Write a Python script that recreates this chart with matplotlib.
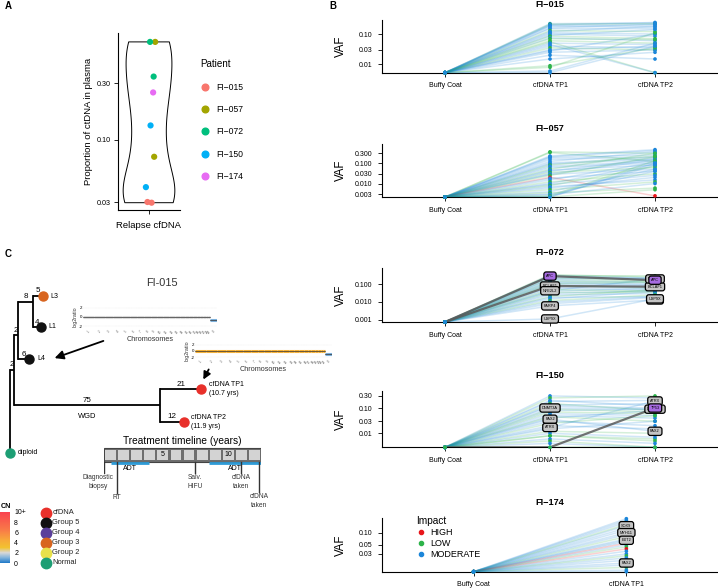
import numpy as np
import matplotlib
matplotlib.use('Agg')
import matplotlib.pyplot as plt
from matplotlib.colors import LinearSegmentedColormap, Normalize
from matplotlib.cm import ScalarMappable
from matplotlib.lines import Line2D
from matplotlib.patches import Rectangle
from matplotlib.ticker import NullLocator

plt.rcParams['font.family'] = ['Liberation Sans', 'DejaVu Sans']
plt.rcParams['axes.linewidth'] = 0.8

W, H = 718, 588

# ---------------- panel A data
patients = ['FI\u2212015', 'FI\u2212057', 'FI\u2212072', 'FI\u2212150', 'FI\u2212174']
patient_colors = ['#F8766D', '#A3A500', '#00BF7D', '#00B0F6', '#E76BF3']
relapse_patient = [0, 0, 1, 1, 2, 2, 3, 3, 4]
relapse_ctdna = [0.0300, 0.0296, 0.072, 0.665, 0.665, 0.340, 0.132, 0.040, 0.250]
relapse_jitter = [-0.03, 0.05, 0.10, 0.12, 0.02, 0.09, 0.03, -0.06, 0.08]

# ---------------- panel B data
impact_names = ['HIGH', 'LOW', 'MODERATE']
impact_colors = {'H': '#E8161B', 'L': '#2DB34A', 'M': '#1C86D9'}
tp3 = ['Buffy Coat', 'cfDNA TP1', 'cfDNA TP2']
tp2 = ['Buffy Coat', 'cfDNA TP1']

fi015_tp1 = [0.22, 0.21, 0.20, 0.19, 0.18, 0.16, 0.15, 0.13, 0.12, 0.11, 0.10, 0.09, 0.085, 0.075, 0.07,
             0.06, 0.055, 0.05, 0.045, 0.04, 0.035, 0.03, 0.028, 0.025, 0.02, 0.015, 0.009, 0.008, 0.006, 0.0]
fi015_tp2 = [0.23, 0.22, 0.24, 0.20, 0.17, 0.21, 0.15, 0.12, 0.18, 0.10, 0.085, 0.14, 0.07, 0.06, 0.065,
             0.05, 0.0, 0.045, 0.0, 0.035, 0.03, 0.04, 0.10, 0.03, 0.015, 0.025, 0.035, 0.11, 0.05, 0.04]
fi015_imp = 'MLMMMMMLMMMMLMLLLMMMLMMMMMLLMM'

fi057_tp1 = [0.35, 0.33, 0.22, 0.20, 0.18, 0.15, 0.12, 0.10, 0.09, 0.08, 0.07, 0.06, 0.05, 0.045, 0.04,
             0.035, 0.03, 0.028, 0.025, 0.02, 0.018, 0.015, 0.012, 0.01, 0.009, 0.008, 0.007, 0.006,
             0.005, 0.004, 0.0035, 0.003, 0.0028, 0.0025, 0.0, 0.0, 0.0]
fi057_tp2 = [0.30, 0.12, 0.45, 0.40, 0.25, 0.20, 0.35, 0.18, 0.15, 0.22, 0.12, 0.10, 0.30, 0.08, 0.16,
             0.06, 0.14, 0.05, 0.20, 0.0025, 0.04, 0.11, 0.03, 0.09, 0.025, 0.07, 0.015, 0.02,
             0.012, 0.05, 0.006, 0.04, 0.01, 0.13, 0.10, 0.005, 0.08]
fi057_imp = 'LLMMMMMMMLMMLMMLMMLHMMLMMLMMLMLMMLMLM'

fi072_tp1 = [0.29, 0.08, 0.043, 0.006, 0.0011, 0.35, 0.32, 0.30, 0.28, 0.25, 0.22, 0.20, 0.18, 0.15, 0.14,
             0.12, 0.11, 0.10, 0.09, 0.07, 0.06, 0.05, 0.04, 0.035, 0.03, 0.025, 0.02, 0.018, 0.015,
             0.012, 0.01, 0.008]
fi072_tp2 = [0.17, 0.073, 0.20, 0.013, 0.015, 0.25, 0.22, 0.30, 0.20, 0.18, 0.15, 0.22, 0.12, 0.14, 0.10,
             0.09, 0.13, 0.08, 0.06, 0.07, 0.05, 0.04, 0.06, 0.035, 0.045, 0.03, 0.05, 0.02, 0.04,
             0.025, 0.02, 0.018]
fi072_imp = 'MMMMMLMLMMLMMLMMLMLMMLMLMMLMMLMM'
fi072_genes = ['APC', 'BCLAF1', 'NFE2L2', 'PARP4', 'USP9X']

fi150_tp1 = [0.10, 0.036, 0.017, 0.0, 0.008, 0.30, 0.25, 0.20, 0.18, 0.15, 0.13, 0.12, 0.09, 0.08, 0.07,
             0.06, 0.05, 0.045, 0.04, 0.03, 0.025, 0.02, 0.015, 0.012, 0.01, 0.008, 0.006, 0.005, 0.004, 0.0]
fi150_tp2 = [0.09, 0.012, 0.19, 0.10, 0.006, 0.25, 0.30, 0.12, 0.20, 0.08, 0.15, 0.10, 0.07, 0.09, 0.06,
             0.05, 0.04, 0.03, 0.08, 0.02, 0.05, 0.015, 0.03, 0.01, 0.007, 0.005, 0.004, 0.0, 0.0, 0.0]
fi150_imp = 'MMMMLMLMMLMMLMLMMLMMLMMLMLMLML'
fi150_genes = ['DNMT3A', 'PAX2', 'ATRX', 'TP53']

fi174_tp1 = [0.148, 0.10, 0.065, 0.018, 0.22, 0.20, 0.18, 0.16, 0.13, 0.115, 0.09, 0.08, 0.07, 0.06,
             0.055, 0.05, 0.045, 0.04, 0.035, 0.03, 0.027, 0.024, 0.021, 0.016, 0.014, 0.012, 0.011]
fi174_imp = 'MMMMMMMLMMMLMMHMLHMMLMMMLMM'
fi174_genes = ['SOX9', 'MYH11', 'EXT2', 'PAX2']

# ---------------- panel C data
tree_nodes = ['root', 'diploid', 'n1', 'n2', 'n3', 'n4', 'L3', 'L1', 'L4', 'TP1', 'TP2']
tree_parent = [None, 'root', 'root', 'n1', 'n1', 'n2', 'n4', 'n4', 'n2', 'n3', 'n3']
tree_branch = [0, 0, 2, 2, 75, 8, 5, 4, 6, 21, 12]
tree_row = [None, 453, 370, 335, 405, 302, 296, 327, 359, 389, 422]
tree_colour = [None, '#1D9E74', None, None, None, None, '#D8651F', '#111111', '#111111', '#E8302A', '#E8302A']
tree_label = [None, 'diploid', None, None, None, None, 'L3', 'L1', 'L4',
              'cfDNA TP1\n(10.7 yrs)', 'cfDNA TP2\n(11.9 yrs)']

timeline_years = 12
adt_start = [0.5, 8.05]
adt_end = [3.45, 12.0]
event_year = [0.0, 0.95, 6.96, 10.47, 11.9]
event_label = ['Diagnostic\nbiopsy', 'RT', 'Salv.\nHIFU', 'cfDNA\ntaken', 'cfDNA\ntaken']
event_label_year = [-0.45, 0.95, 6.96, 10.47, 11.9]
event_depth = [473, 493, 473, 473, 492]

chrom_names = [str(i) for i in range(1, 23)] + ['X']
chrom_len = [249, 243, 198, 191, 181, 171, 159, 146, 141, 136, 135, 134, 115, 107, 102, 90, 81, 78,
             59, 63, 48, 51, 155]
cnv1_cn = [2] * 22 + [1]
cnv1_ratio = [0.0] * 22 + [-0.75]
cnv2_cn = [4] * 22 + [1]
cnv2_ratio = [0.0] * 22 + [-0.9]

group_labels = ['cfDNA', 'Group 5', 'Group 4', 'Group 3', 'Group 2', 'Normal']
group_colors = ['#E8302A', '#111111', '#5B3F9B', '#D8651F', '#E8E14A', '#1D9E74']

cn_cmap = LinearSegmentedColormap.from_list('cn', [(0.0, '#1E78C8'), (0.1, '#7FB2DB'), (0.2, '#D8D8D8'),
                                                   (0.3, '#F2C230'), (0.45, '#F7A83A'),
                                                   (0.65, '#F87A48'), (1.0, '#F9424F')])
cn_norm = Normalize(0, 10)


def px(x0, y0, x1, y1):
    return [x0 / W, 1 - y1 / H, (x1 - x0) / W, (y1 - y0) / H]


def clean(ax):
    ax.spines['top'].set_visible(False)
    ax.spines['right'].set_visible(False)


fig = plt.figure(figsize=(W / 100, H / 100), dpi=100)
ov = fig.add_axes([0, 0, 1, 1])
ov.set_xlim(0, W)
ov.set_ylim(H, 0)
ov.axis('off')

for lab, (x, y) in zip('ABC', [(8, 6), (333, 6), (8, 254)]):
    ov.text(x, y, lab, fontsize=7, fontweight='bold', ha='center', va='center')

# ================= panel A
axA = fig.add_axes(px(118, 33, 180, 210))
clean(axA)
logv = np.log10(relapse_ctdna)
vp = axA.violinplot([logv], positions=[1], widths=1.0, showextrema=False, bw_method=0.4)
for b in vp['bodies']:
    b.set_facecolor('none')
    b.set_edgecolor('black')
    b.set_linewidth(0.7)
    b.set_alpha(1)
axA.scatter(1 + np.array(relapse_jitter), logv, c=[patient_colors[p] for p in relapse_patient],
            s=20, edgecolors='none', zorder=3)
axA.set_xlim(0.4, 1.6)
axA.set_ylim(np.log10(0.0257), np.log10(0.79))
axA.set_yticks(np.log10([0.03, 0.1, 0.3]))
axA.set_yticklabels(['0.03', '0.10', '0.30'], fontsize=5.2)
axA.set_xticks([1])
axA.set_xticklabels(['Relapse cfDNA'], fontsize=6.8)
axA.tick_params(length=3, width=0.6, pad=2)
axA.tick_params(axis='x', pad=5)
axA.set_ylabel('Proportion of ctDNA in plasma', fontsize=6.8, labelpad=3)

handles = [Line2D([], [], marker='o', ls='', color=c, ms=4.8) for c in patient_colors]
fig.legend(handles, patients, title='Patient', loc='upper left', bbox_to_anchor=(196 / W, 1 - 55 / H),
           frameon=False, fontsize=6.2, title_fontsize=7.1, labelspacing=1.55, handletextpad=0.9,
           handlelength=1.0, borderpad=0, alignment='left')


# ================= panel B
def vaf_panel(rect, title, cats, vafs, imp, ylim, ticks, ticklabels, genes=(), purple=(), grey=()):
    ax = fig.add_axes(rect)
    clean(ax)
    ax.set_yscale('log')
    ax.set_ylim(*ylim)
    ax.set_xlim(-0.6, len(cats) - 0.4)
    xs = np.arange(len(cats))
    cols = [impact_colors[c] for c in imp]
    for i in range(len(imp)):
        ys = np.clip([v[i] for v in vafs], ylim[0], None)
        if i in grey:
            ax.plot(xs, ys, color='#5A5A5A', lw=1.6, alpha=0.85, zorder=3)
        else:
            ax.plot(xs, ys, color=cols[i], lw=1.1, alpha=0.2, zorder=2)
    for j in range(len(cats)):
        ys = np.clip(vafs[j], ylim[0], None)
        ax.scatter(np.full(len(ys), j), ys, s=7, c=cols, edgecolors='none', zorder=4, clip_on=False)
    for i, g in enumerate(genes):
        for j in range(1, len(cats)):
            v = vafs[j][i]
            if v > 0:
                fc = '#A66BE0' if i in purple else '#C4C4C4'
                ax.text(j, v, g, fontsize=2.8, ha='center', va='center', zorder=7 if i in purple else 6,
                        bbox=dict(boxstyle='round,pad=0.55,rounding_size=0.6', fc=fc, ec='black', lw=0.9))
    ax.set_yticks(ticks)
    ax.set_yticklabels(ticklabels, fontsize=5)
    ax.yaxis.set_minor_locator(NullLocator())
    ax.set_xticks(xs)
    ax.set_xticklabels(cats, fontsize=5)
    ax.tick_params(length=3, width=0.6, pad=4)
    ax.set_ylabel('VAF', fontsize=8.3)
    ax.yaxis.set_label_coords(-35 / 336, 0.5)
    ax.annotate(title, xy=(0.5, 1), xycoords='axes fraction', xytext=(0, 11.5), textcoords='offset points',
                ha='center', va='center', fontsize=6.6, fontweight='bold')
    return ax


zeros = [0.0] * 40
vaf_panel(px(382, 20, 718, 72.7), 'FI\u2212015', tp3, [zeros[:30], fi015_tp1, fi015_tp2], fi015_imp,
          (0.0053, 0.29), [0.01, 0.03, 0.1], ['0.01', '0.03', '0.10'])
vaf_panel(px(382, 144, 718, 197), 'FI\u2212057', tp3, [zeros[:37], fi057_tp1, fi057_tp2], fi057_imp,
          (0.0022, 0.85), [0.003, 0.01, 0.03, 0.1, 0.3], ['0.003', '0.010', '0.030', '0.100', '0.300'])
vaf_panel(px(382, 268, 718, 322), 'FI\u2212072', tp3, [zeros[:32], fi072_tp1, fi072_tp2], fi072_imp,
          (0.00074, 0.83), [0.001, 0.01, 0.1], ['0.001', '0.010', '0.100'],
          genes=fi072_genes, purple=(0,), grey=(0, 1))
vaf_panel(px(382, 391, 718, 447.3), 'FI\u2212150', tp3, [zeros[:30], fi150_tp1, fi150_tp2], fi150_imp,
          (0.0028, 0.47), [0.01, 0.03, 0.1, 0.3], ['0.01', '0.03', '0.10', '0.30'],
          genes=fi150_genes, purple=(3,), grey=(3,))
ax174 = vaf_panel(px(382, 518.3, 718, 571.7), 'FI\u2212174', tp2, [zeros[:27], fi174_tp1], fi174_imp,
                  (0.011, 0.225), [0.03, 0.05, 0.1], ['0.03', '0.05', '0.10'], genes=fi174_genes)

handles = [Line2D([], [], marker='o', ls='', color=impact_colors[k], ms=3) for k in 'HLM']
fig.legend(handles, impact_names, title='Impact', loc='upper left', bbox_to_anchor=(412 / W, 1 - 511 / H),
           frameon=False, fontsize=6.5, title_fontsize=7.3, labelspacing=0.25, handletextpad=0.5,
           handlelength=1.0, borderpad=0, alignment='left')

# ================= panel C : tree
axT = fig.add_axes(px(0, 255, 360, 588))
axT.set_xlim(-10 / 1.95, 350 / 1.95)
axT.set_ylim(588, 255)
axT.axis('off')
depth = {}
row = dict(zip(tree_nodes, tree_row))
for n, p, b in zip(tree_nodes, tree_parent, tree_branch):
    depth[n] = 0 if p is None else depth[p] + b
for n, p, b in zip(tree_nodes, tree_parent, tree_branch):
    if p is None:
        continue
    axT.plot([depth[p], depth[n]], [row[n], row[n]], color='black', lw=1.3, solid_capstyle='butt')
    if b > 0:
        axT.text((depth[p] + depth[n]) / 2, row[n] - 5, str(b), fontsize=5.8, ha='center', va='center')
for n in tree_nodes:
    kids = [row[c] for c, p in zip(tree_nodes, tree_parent) if p == n]
    if kids:
        axT.plot([depth[n], depth[n]], [min(kids), max(kids)], color='black', lw=1.3)
for n, c, lab in zip(tree_nodes, tree_colour, tree_label):
    if c is None:
        continue
    axT.plot(depth[n], row[n], 'o', ms=6.5, color=c, zorder=4)
    axT.annotate(lab, xy=(depth[n], row[n]), xytext=(5.5, 0), textcoords='offset points',
                 fontsize=5, ha='left', va='center', linespacing=1.3)
axT.text((depth['n1'] + depth['n3']) / 2, row['n3'] + 11, 'WGD', fontsize=5.4, ha='center', va='center')

ov.text(162, 283, 'FI-015', fontsize=7.9, ha='center', va='center', color='#333333')
ov.annotate('', xy=(52, 359), xytext=(106, 340),
            arrowprops=dict(arrowstyle='-|>', lw=1.3, color='black', mutation_scale=13))
ov.annotate('', xy=(202, 382), xytext=(210, 367),
            arrowprops=dict(arrowstyle='-|>', lw=1.3, color='black', mutation_scale=11))


# mini copy-number plots
def cnv_panel(rect, cn, ratio):
    ax = fig.add_axes(rect)
    ends = np.cumsum(chrom_len)
    starts = ends - np.array(chrom_len)
    for s, e, c, r in zip(starts, ends, cn, ratio):
        ax.plot([s, e], [r, r], color=cn_cmap(cn_norm(c)), lw=2.2, solid_capstyle='butt')
        ax.plot([s, e], [r, r], color='#333333', lw=0.5)
    for yv in (-2, 2):
        ax.axhline(yv, color='#DDDDDD', lw=0.3, ls=':')
    ax.set_xlim(0, ends[-1])
    ax.set_ylim(-2.6, 2.6)
    for sp in ax.spines.values():
        sp.set_visible(False)
    ax.set_yticks([-2, 0, 2])
    ax.set_yticklabels(['-2', '0', '2'], fontsize=3.2)
    ax.set_xticks((starts + ends) / 2)
    ax.set_xticklabels(chrom_names, fontsize=2.2, rotation=45, color='#555555')
    ax.tick_params(length=0, pad=0.5)
    ax.set_xlabel('Chromosomes', fontsize=5.2, labelpad=0.5, color='#333333')
    ax.set_ylabel('log2ratio', fontsize=3.8, labelpad=0.5, color='#333333')
    ax.patch.set_alpha(0)


cnv_panel(px(83, 305, 217, 329), cnv1_cn, cnv1_ratio)
cnv_panel(px(195, 343, 332, 359), cnv2_cn, cnv2_ratio)

# treatment timeline
axL = fig.add_axes(px(104.3, 436, 260.7, 512))
axL.set_xlim(0, timeline_years)
axL.set_ylim(512, 436)
axL.axis('off')
axL.add_patch(Rectangle((0, 448.3), timeline_years, 13.4, fc='#6E6E6E', ec='#444444', lw=0.8))
for yr in range(timeline_years):
    axL.add_patch(Rectangle((yr + 0.08, 449.8), 0.84, 10.4, fc='#D3D3D3', ec='none'))
    if (yr + 1) % 5 == 0:
        axL.text(yr + 0.5, 455, str(yr + 1), fontsize=5, ha='center', va='center')
axL.text(timeline_years / 2, 441.5, 'Treatment timeline (years)', fontsize=7.3, ha='center', va='center')
for s, e in zip(adt_start, adt_end):
    axL.plot([s, e], [462.8, 462.8], color='#2E9BD6', lw=2, solid_capstyle='butt')
    axL.text((s + e) / 2, 468.5, 'ADT', fontsize=5, ha='center', va='center')
for yr, lab, lx, d in zip(event_year, event_label, event_label_year, event_depth):
    axL.plot([yr, yr], [461.7, d], color='#333333', lw=1)
    axL.text(lx, d + 0.8, lab, fontsize=4.8, ha='center', va='top', color='#333333', linespacing=1.35)

# CN colour bar
cax = fig.add_axes(px(0, 512, 10, 563))
cb = fig.colorbar(ScalarMappable(norm=cn_norm, cmap=cn_cmap), cax=cax, ticks=[0, 2, 4, 6, 8, 10])
cb.ax.set_yticklabels(['0', '2', '4', '6', '8', '10+'], fontsize=5)
cb.outline.set_visible(False)
cb.ax.tick_params(length=2, width=0.5, color='white', pad=1)
ov.text(1, 506, 'CN', fontsize=5.2, fontweight='bold', ha='left', va='center')

for i, (lab, col) in enumerate(zip(group_labels, group_colors)):
    ov.plot(45.7, 512.7 + 10 * i, 'o', ms=7.5, color=col)
    ov.text(52.5, 512.7 + 10 * i, lab, fontsize=5.4, ha='left', va='center', color='#222222')

fig.savefig('out.png', dpi=100)
